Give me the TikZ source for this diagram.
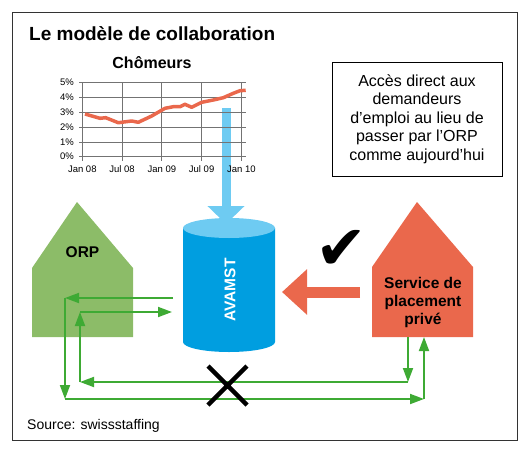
\documentclass[tikz,border=0pt]{standalone}
\usepackage{fontspec}
\setmainfont{Liberation Sans}
\newfontfamily\symbfont{DejaVu Sans}
\usetikzlibrary{arrows.meta}

\definecolor{orpgreen}{RGB}{140,188,104}
\definecolor{sppred}{RGB}{234,104,76}
\definecolor{avablue}{RGB}{0,158,224}
\definecolor{avatop}{RGB}{110,203,242}
\definecolor{linkgreen}{RGB}{62,170,52}

\begin{document}
\begin{tikzpicture}[x=1pt, y=-1pt,
    housetext/.style={font=\fontsize{15.5}{18}\selectfont\bfseries, align=center},
    flow/.style={draw=linkgreen, line width=1.8pt, -{Triangle[length=14pt, width=10pt]}},
    gridline/.style={black!55, line width=0.8pt},
    ticklabel/.style={font=\fontsize{9.5}{10}\selectfont, inner sep=1pt}]
        \useasboundingbox (0,0) rectangle (530,453);
        \draw[black!80, line width=1pt] (12,12) rectangle (517,440);

        \node[anchor=base west, inner sep=0, font=\fontsize{19}{20}\selectfont\bfseries] (title) at (29,40.7) {Le modèle de collaboration};
        \node[anchor=base west, inner sep=0, font=\fontsize{14}{15}\selectfont] (source) at (27,429) {Source: swissstaffing};

        % AVAMST
        \fill[avablue] (183,228) -- (183,342) arc[start angle=180, end angle=0, x radius=46, y radius=10] -- (275,228) -- cycle;
        \fill[avatop] (229,228) ellipse [x radius=46, y radius=10];
        \node[rotate=90, text=white, font=\fontsize{15.5}{18}\selectfont\bfseries] (avamst) at (230,290) {AVAMST};

        % arrow from the chart
        \coordinate (cyltop) at (226,224);
        \coordinate (chartbar) at (226,108);
        \draw[avatop, line width=9pt, -{Triangle[length=18pt, width=36pt]}] (chartbar) -- (cyltop);

        % chart
        \node[font=\fontsize{16}{18}\selectfont\bfseries] (chart) at (152,62.5) {Chômeurs};
        \foreach \v in {0,...,5} {
            \draw[gridline] (79,{156.7-14.8*\v}) -- (246,{156.7-14.8*\v});
            \node[ticklabel, anchor=east] at (75,{156.7-14.8*\v}) {\v\%};
        }
        \foreach \m/\lab in {0/Jan 08, 6/Jul 08, 12/Jan 09, 18/Jul 09, 24/Jan 10} {
            \draw[gridline] ({82.3+6.63*\m},82.7) -- ({82.3+6.63*\m},161);
            \node[ticklabel] at ({82.3+6.63*\m},169.5) {\lab};
        }
        \draw[sppred, line width=3.5pt, line join=round] plot coordinates {
            (85,114) (100,118.3) (105.7,117.7) (118.3,122.7) (131.7,121) (138.3,122.3)
            (151.7,116) (165,108.3) (173.3,106.7) (180,106.7) (185,104.3) (191.7,107.3)
            (201.7,102.3) (213.3,100) (223.3,97.7) (233.3,93.3) (240,90.7) (245.7,90.3)};

        \node[draw, line width=0.9pt, minimum width=170pt, minimum height=114pt,
              font=\fontsize{16}{18.5}\selectfont, align=center] (note) at (417,119)
              {Accès direct aux\\demandeurs\\d’emploi au lieu de\\passer par l’ORP\\comme aujourd’hui};

        % houses
        \fill[orpgreen] (32,337) -- (32,268) -- (77,202) -- (133,268) -- (133,337) -- cycle;
        \node[housetext] (orp) at (82.5,252) {ORP};
        \fill[sppred] (372,337) -- (372,267) -- (417,202) -- (473,267) -- (473,337) -- cycle;
        \node[housetext] (spp) at (423,302) {Service de\\placement\\privé};

        \coordinate (spptail) at (360,292);
        \coordinate (cylright) at (282,292);
        \draw[sppred, line width=11pt, -{Triangle[length=25pt, width=44pt]}] (spptail) -- (cylright);
        \node[font=\symbfont\fontsize{62}{64}\selectfont] (check) at (341,250) {✔};

        % flows
        \coordinate (a0) at (173,298);
        \coordinate (a1) at (65,298);
        \coordinate (a2) at (65,399);
        \coordinate (a3) at (424,399);
        \coordinate (a4) at (424,337);
        \coordinate (b0) at (408,337);
        \coordinate (b1) at (408,382);
        \coordinate (b2) at (80,382);
        \coordinate (b3) at (80,312);
        \coordinate (b4) at (172,312);
        \draw[flow] (a0) -- (a1);
        \draw[flow] (a1) -- (a2);
        \draw[flow] (a2) -- (a3);
        \draw[flow] (a3) -- (a4);
        \draw[flow] (b0) -- (b1);
        \draw[flow] (b1) -- (b2);
        \draw[flow] (b2) -- (b3);
        \draw[flow] (b3) -- (b4);

        \draw[line width=4.5pt] (208,366) -- (247,405) (208,405) -- (247,366);
\end{tikzpicture}
\end{document}
